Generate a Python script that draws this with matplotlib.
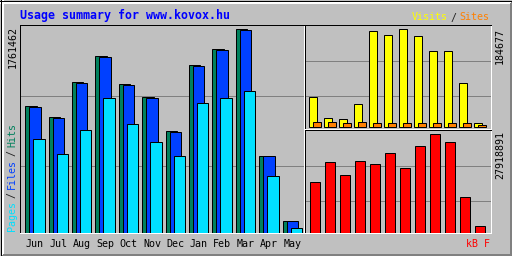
import matplotlib
matplotlib.use("Agg")
import matplotlib.pyplot as plt
from matplotlib.lines import Line2D
import numpy as np

# --- data (webalizer usage summary) ---
months = ["Jun", "Jul", "Aug", "Sep", "Oct", "Nov", "Dec", "Jan", "Feb", "Mar", "Apr", "May"]
hits = [1096600, 999000, 1303800, 1528300, 1286600, 1174300, 880700, 1450600, 1588800, 1761462, 664900, 103600]
files = [1090000, 990400, 1295000, 1520000, 1278000, 1165700, 875000, 1445000, 1582000, 1752000, 662000, 101000]
pages = [811700, 679500, 889400, 1165700, 941200, 785800, 664900, 1122500, 1165700, 1226100, 492200, 43200]
visits = [56500, 17000, 15100, 43300, 180900, 174000, 184677, 172100, 143200, 143200, 83500, 7500]
sites = [10000, 10000, 8100, 10000, 8100, 8100, 8100, 8100, 8100, 8100, 8100, 4300]
kbytes = [14300000, 19975000, 16286000, 20258000, 19407000, 22528000, 18272000, 24514000, 27918891, 25649000, 10044000, 2100000]

BG = "#c0c0c0"
C_HITS, C_FILES, C_PAGES = "#00805c", "#0040ff", "#00e0ff"
C_VISITS, C_SITES, C_KB = "#ffff00", "#ff8000", "#ff0000"
GRID = "#808080"
MONO = "DejaVu Sans Mono"
PX = 0.72  # one pixel in points at dpi 100
W, H = 512, 256

fig = plt.figure(figsize=(W / 100, H / 100), dpi=100)
fig.patch.set_facecolor(BG)


def panel(x0, y0, x1, y1):
    # pixel box, top-left origin
    ax = fig.add_axes([x0 / W, 1 - y1 / H, (x1 - x0) / W, (y1 - y0) / H])
    ax.set_facecolor(BG)
    for s in ("top", "left"):
        ax.spines[s].set_color("black")
    for s in ("bottom", "right"):
        ax.spines[s].set_color("white")
    for s in ax.spines.values():
        s.set_linewidth(PX)
    ax.set_xticks([])
    ax.set_yticks([])
    return ax


def grid(ax, fracs):
    for f in fracs:
        ax.add_line(Line2D([0, 1], [f, f], transform=ax.transAxes, color=GRID,
                           lw=PX, zorder=0.5, antialiased=False))


x = np.arange(len(months))
bar_kw = dict(align="edge", edgecolor="black", linewidth=PX, zorder=2)

# main panel: hits / files / pages
ax = panel(20, 25, 304, 233)
ax.bar(x + 0.226, hits, width=0.487, color=C_HITS, **bar_kw)
ax.bar(x + 0.397, files, width=0.487, color=C_FILES, **bar_kw)
ax.bar(x + 0.568, pages, width=0.487, color=C_PAGES, **bar_kw)
ax.set_xlim(0, 284 / 23.4)
ax.set_ylim(0, max(hits) * 1.0196)
grid(ax, [0.324, 0.66])
ax.set_xticks(x + 0.64)
ax.set_xticklabels(months, family=MONO, fontsize=7.2, color="black")
ax.tick_params(axis="x", length=0, pad=4.6)

# top right: visits / sites
ax2 = panel(305, 25, 491, 129)
ax2.bar(x + 0.287, visits, width=0.49, color=C_VISITS, **bar_kw)
ax2.bar(x + 0.553, sites, width=0.51, color=C_SITES, **bar_kw)
ax2.set_xlim(0, 186 / 15)
ax2.set_ylim(-0.0173 * max(visits), 1.0439 * max(visits))
grid(ax2, [0.32, 0.657])

# bottom right: kbytes
ax3 = panel(305, 130, 491, 233)
ax3.bar(x + 0.353, kbytes, width=0.627, color=C_KB, **bar_kw)
ax3.set_xlim(0, 186 / 15)
ax3.set_ylim(0, 1.0437 * max(kbytes))
grid(ax3, [0.314, 0.653])

# overlay in pixel coordinates for frame and labels
ov = fig.add_axes([0, 0, 1, 1], zorder=10)
ov.set_xlim(0, W)
ov.set_ylim(H, 0)
ov.axis("off")


def hline(x0, x1, y, c):
    ov.add_line(Line2D([x0, x1], [y, y], color=c, lw=PX, antialiased=False))


def vline(x0, y0, y1, c):
    ov.add_line(Line2D([x0, x0], [y0, y1], color=c, lw=PX, antialiased=False))


# bevelled outer frame
for d in (1.5, 2.5):
    hline(0, W - d, d, "white")
    vline(d, 0, H - d, "white")
for d in (1.5, 2.5):
    hline(d, W, H - d, GRID)
    vline(W - d, d, H, GRID)
hline(0, W, 0.5, "black")
hline(0, W, H - 0.5, "black")
vline(0.5, 0, H, "black")
vline(W - 0.5, 0, H, "black")

txt = dict(family=MONO, fontsize=7.2)
ov.text(20, 19, "Usage summary for www.kovox.hu", color="#0000ff", family=MONO,
        fontsize=8.4, fontweight="bold", va="baseline", ha="left")

# Visits/Sites legend
ov.text(411.5, 20.5, "Visits", color=C_VISITS, va="baseline", ha="left", **txt)
ov.text(450.5, 20.5, "/", color="#202020", va="baseline", ha="left", **txt)
ov.text(459.5, 20.5, "Sites", color=C_SITES, va="baseline", ha="left", **txt)

ov.text(465.5, 247, "kB F", color=C_KB, va="baseline", ha="left", **txt)

# left y legend
up = dict(rotation=90, rotation_mode="anchor", va="center", ha="left", **txt)
ov.text(12, 231, "Pages", color=C_PAGES, **up)
ov.text(12, 198, "/", color="#202020", **up)
ov.text(12, 189, "Files", color=C_FILES, **up)
ov.text(12, 156, "/", color="#202020", **up)
ov.text(12, 147, "Hits", color=C_HITS, **up)

# max value labels
down = dict(rotation=90, rotation_mode="anchor", va="center", ha="right", color="black", **txt)
ov.text(12.5, 25.5, f"{max(hits)}", **down)
ov.text(500, 27.5, f"{max(visits)}", **down)
ov.text(500, 131, f"{max(kbytes)}", **down)

fig.savefig("out.png", dpi=100, facecolor=BG)
